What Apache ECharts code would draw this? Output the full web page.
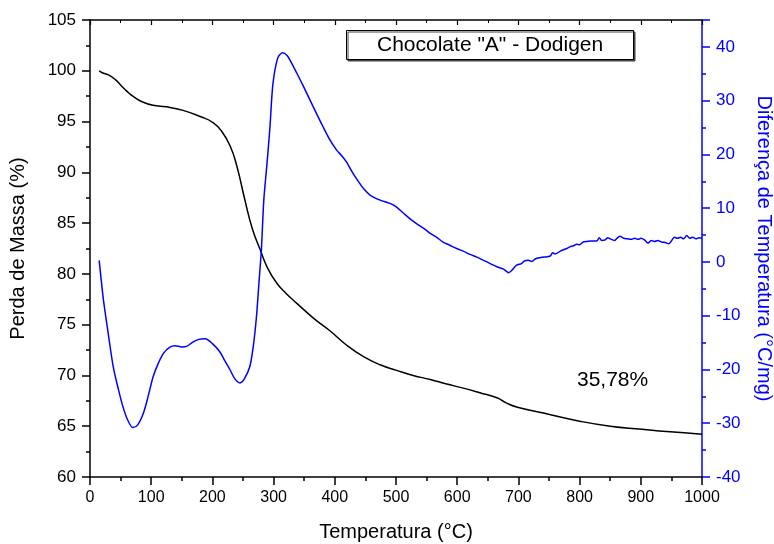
<!DOCTYPE html>
<html><head><meta charset="utf-8">
<script src="https://cdn.jsdelivr.net/npm/echarts@6/dist/echarts.min.js"></script>
<style>html,body{margin:0;padding:0;background:#fff}#c{width:774px;height:544px}</style>
</head><body><div id="c"></div>
<script>
const tgTemp = [15,20,30,41,50,60,70,85,103,125,152,180,201,215,229,240,253,265,278,290,305,320,338,365,392,419,447,474,501,528,556,583,610,637,665,680,697,741,800,850,902,942,1000];
const tgMass = [100.0,99.8,99.6,99.15,98.6,98.0,97.5,96.95,96.6,96.45,96.1,95.5,94.9,94.05,92.6,90.6,87.3,84.5,82.4,80.6,79.1,78.1,77.1,75.65,74.4,73.0,71.85,71.05,70.5,70.0,69.6,69.15,68.75,68.3,67.8,67.3,66.9,66.3,65.5,65.0,64.7,64.47,64.22];

const dtaTemp = [15,18,22,30,38,46,54,62,70,78,87,95,103,111,120,130,139,150,158,168,178,188,200,212,220,229,237,245,252,261,267,272,276,280,284,289,294,299,307,315,322,327,338,349,365,381,393,403,411,419,429,439,448,458,474,490,500,512,523,534,547,556,566,577,588,599,610,621,632,643,654,665,675,680,684,689,697,705,710,716,722,728,735,742,752,756,760,770,777,784,790,795,800,806,812,820,828,832,836,842,846,850,857,861,866,872,878,884,890,896,900,906,912,917,922,928,934,940,946,950,955,960,965,970,975,980,985,990,995,1000];
const dtaVal = [0.3,-3,-7.1,-13.5,-19.5,-23.5,-27,-29.5,-30.8,-30.3,-28.2,-25,-21.4,-19,-17.0,-15.9,-15.6,-15.8,-15.7,-14.9,-14.4,-14.3,-15.2,-16.7,-18.3,-20.1,-21.8,-22.5,-21.8,-19.5,-15.5,-10.2,-4,2.2,11.5,18,25,33.2,38,38.9,38.4,37.5,35.1,32.6,28.8,25.1,22.5,20.8,19.8,18.6,16.6,14.9,13.5,12.4,11.5,10.9,10.3,9.1,8.0,7.1,6.1,5.3,4.6,3.7,3.1,2.5,2.0,1.4,0.9,0.3,-0.3,-0.9,-1.3,-1.7,-2.0,-1.6,-0.6,-0.3,0.2,0.3,0.1,0.6,0.8,0.9,1.1,1.7,1.5,2.1,2.4,2.8,3.0,3.3,3.2,3.7,3.8,3.9,3.9,4.5,4.0,4.1,4.5,4.3,4.0,4.4,4.8,4.4,4.3,4.2,4.4,4.2,4.4,4.1,3.5,4.0,3.8,4.0,3.7,3.6,3.4,3.9,4.6,4.4,4.6,4.3,4.9,4.4,4.6,4.3,4.5,4.4];

const xTitle = 'Temperatura (°C)';
const yLeftTitle = 'Perda de Massa (%)';
const yRightTitle = 'Diferença de Temperatura (°C/mg)';
const boxText = 'Chocolate "A" - Dodigen';
const lossText = '35,78%';

const FONT = 'Liberation Sans, Arial, sans-serif';
const chart = echarts.init(document.getElementById('c'), null, {renderer:'canvas'});
const plain = v => String(v);
chart.setOption({
  animation:false,
  backgroundColor:'#fff',
  title:[{
    text: boxText, left:346, top:30,
    padding:[5,31,4,31],
    borderColor:'#000', borderWidth:1,
    backgroundColor:'#fff',
    shadowColor:'#444', shadowOffsetX:1.5, shadowOffsetY:1.5, shadowBlur:0,
    textStyle:{fontFamily:FONT, fontSize:21, fontWeight:'normal', color:'#000'}
  },{
    text: lossText, left:577, top:370, padding:0,
    textStyle:{fontFamily:FONT, fontSize:21, fontWeight:'normal', color:'#000'}
  }],
  grid:{left:90, right:72, top:20, bottom:67, outerBoundsMode:'none', containLabel:false},
  xAxis:[{
    type:'value', min:0, max:1000, interval:100, position:'bottom',
    name:xTitle, nameLocation:'middle', nameGap:45,
    nameTextStyle:{fontFamily:FONT, fontSize:20, color:'#000'},
    axisLine:{show:true, onZero:false, lineStyle:{color:'#000', width:1.5}},
    axisTick:{show:true, inside:false, length:8, lineStyle:{width:1.5, color:'#000'}},
    minorTick:{show:true, splitNumber:2, length:4, lineStyle:{width:1.5, color:'#000'}},
    axisLabel:{fontFamily:FONT, fontSize:16, color:'#000', margin:13, formatter:plain},
    splitLine:{show:false}
  },{
    type:'value', min:0, max:1000, interval:100, position:'top',
    axisLine:{show:true, onZero:false, lineStyle:{color:'#000', width:1.5}},
    axisTick:{show:true, inside:true, length:5, lineStyle:{width:1.2, color:'#000'}},
    minorTick:{show:true, splitNumber:2, length:3, lineStyle:{width:1, color:'#000'}},
    axisLabel:{show:false}, splitLine:{show:false}
  }],
  yAxis:[{
    type:'value', min:60, max:105, interval:5, position:'left',
    name:yLeftTitle, nameLocation:'middle', nameGap:62, nameRotate:90,
    nameTextStyle:{fontFamily:FONT, fontSize:20, color:'#000'},
    axisLine:{show:true, onZero:false, lineStyle:{color:'#000', width:1.5}},
    axisTick:{show:true, inside:false, length:8, lineStyle:{width:1.5, color:'#000'}},
    minorTick:{show:true, splitNumber:2, length:4, lineStyle:{width:1.5, color:'#000'}},
    axisLabel:{fontFamily:FONT, fontSize:17, color:'#000', margin:14, formatter:plain},
    splitLine:{show:false}
  },{
    type:'value', min:-40, max:45, interval:10, position:'right',
    name:yRightTitle, nameLocation:'middle', nameGap:52, nameRotate:-90,
    nameTextStyle:{fontFamily:FONT, fontSize:20, color:'#0000ff'},
    axisLine:{show:true, onZero:false, lineStyle:{color:'#0000ff', width:1.5}},
    axisTick:{show:true, inside:false, length:8, lineStyle:{width:1.5, color:'#0000ff'}},
    minorTick:{show:true, splitNumber:2, length:4, lineStyle:{width:1.5, color:'#0000ff'}},
    axisLabel:{fontFamily:FONT, fontSize:17, color:'#0000ff', margin:14, showMaxLabel:false, formatter:plain},
    splitLine:{show:false}
  }],
  series:[{
    type:'line', xAxisIndex:0, yAxisIndex:0, smooth:0.5, symbol:'none',
    data: tgTemp.map((t,i)=>[t, tgMass[i]]),
    lineStyle:{color:'#000', width:1.5}
  },{
    type:'line', xAxisIndex:0, yAxisIndex:1, smooth:0.3, symbol:'none',
    data: dtaTemp.map((t,i)=>[t, dtaVal[i]]),
    lineStyle:{color:'#0000ff', width:1.5}
  }]
});
</script></body></html>
